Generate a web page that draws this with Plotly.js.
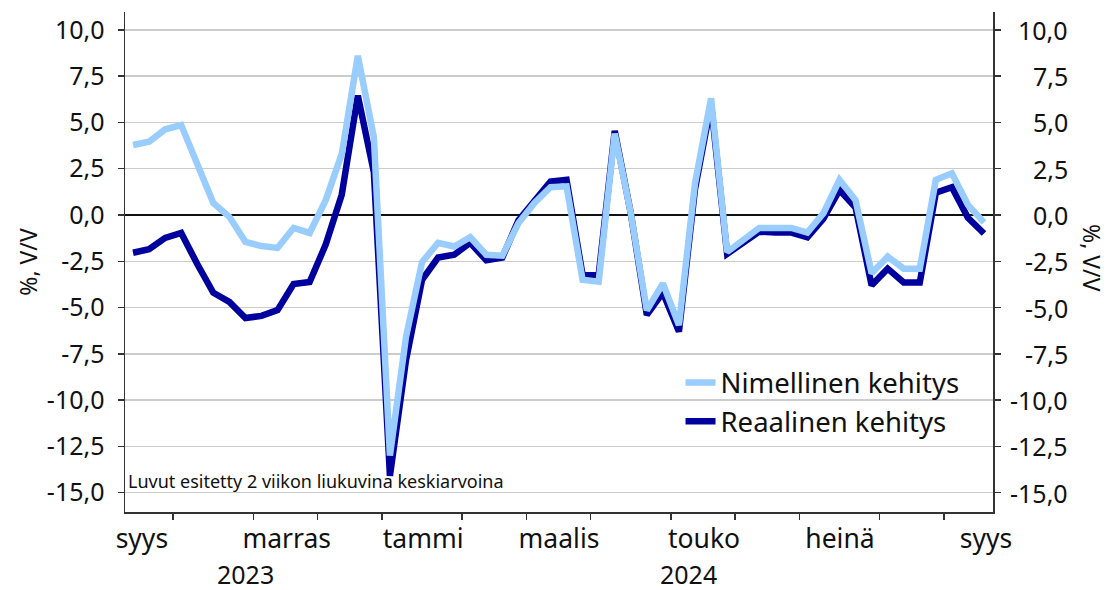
<!DOCTYPE html>
<html><head><meta charset="utf-8">
<script src="https://cdn.plot.ly/plotly-3.0.1.min.js"></script>
<style>html,body{margin:0;padding:0;background:#fff}#chart{width:1107px;height:590px}</style>
</head><body><div id="chart"></div>
<script>
// weekly points, Sept 2023 .. Sept 2024 (54 weeks)
const weekIndex = [0,1,2,3,4,5,6,7,8,9,10,11,12,13,14,15,16,17,18,19,20,21,22,23,24,25,26,27,28,29,30,31,32,33,34,35,36,37,38,39,40,41,42,43,44,45,46,47,48,49,50,51,52,53];
const nominal = [3.78,3.96,4.63,4.86,2.76,0.65,-0.1,-1.45,-1.68,-1.78,-0.7,-0.97,0.8,3.3,8.6,4.2,-13.0,-6.6,-2.55,-1.5,-1.7,-1.2,-2.15,-2.2,-0.45,0.65,1.5,1.55,-3.5,-3.6,4.4,0.1,-5.15,-3.7,-5.95,1.7,6.3,-2.0,-1.35,-0.7,-0.7,-0.7,-0.95,0.1,1.9,0.8,-3.15,-2.25,-2.9,-2.9,1.9,2.25,0.55,-0.4];
const real = [-2.04,-1.85,-1.24,-0.97,-2.65,-4.2,-4.7,-5.57,-5.45,-5.14,-3.73,-3.62,-1.6,1.1,6.45,2.3,-14.1,-7.85,-3.5,-2.3,-2.15,-1.5,-2.45,-2.3,-0.3,0.8,1.8,1.9,-3.25,-3.25,4.55,0.1,-5.4,-4.2,-6.3,1.4,6.0,-2.1,-1.5,-0.9,-0.95,-0.95,-1.2,-0.2,1.35,0.4,-3.8,-2.9,-3.65,-3.65,1.2,1.5,-0.15,-1.0];
// month boundaries (between weeks) and label positions
const monthTicks = [2.5,7.5,11.5,15.5,20.5,24.5,28.5,33.5,37.5,41.5,46.5,50.5];
const monthLabelPos = [0.55,9.57,18.07,26.53,35.56,44.03,53.12];
const monthLabels = ['syys','marras','tammi','maalis','touko','heinä','syys'];
const yearLabelPos = [7.0,34.6];
const yearLabels = ['2023','2024'];
const yTicks = [10,7.5,5,2.5,0,-2.5,-5,-7.5,-10,-12.5,-15];
const yTickText = yTicks.map(v => v.toFixed(1).replace('.', ','));
const seriesNames = ['Nimellinen kehitys','Reaalinen kehitys'];
const yTitle = '%, V/V';
const note = 'Luvut esitetty 2 viikon liukuvina keskiarvoina';

const FONT = 'Noto Sans, Open Sans, sans-serif';
const LIGHT = '#99ccff', DARK = '#00009c';
const YR = [-16.05, 10.97];
const XR = [-0.5, 53.56];

const traces = [
  {x: weekIndex, y: real, name: seriesNames[1], type: 'scatter', mode: 'lines',
   line: {color: DARK, width: 6.5}},
  {x: weekIndex, y: nominal, name: seriesNames[0], type: 'scatter', mode: 'lines',
   line: {color: LIGHT, width: 6.5}},
  // invisible helper traces to show the right axis and the month-label axis
  {x: [weekIndex[0]], y: [yTicks[0]], yaxis: 'y2', xaxis: 'x', mode: 'markers',
   marker: {opacity: 0}, showlegend: false, hoverinfo: 'skip'},
  {x: [weekIndex[0]], y: [yTicks[0]], yaxis: 'y', xaxis: 'x2', mode: 'markers',
   marker: {opacity: 0}, showlegend: false, hoverinfo: 'skip'}
];

const annotations = [];
yearLabels.forEach((t, k) => annotations.push({
  text: t, xref: 'x', x: yearLabelPos[k], yref: 'paper', y: -0.124,
  xanchor: 'center', yanchor: 'middle', showarrow: false, borderpad: 0,
  font: {family: FONT, size: 25, color: '#111'}
}));
yTicks.forEach((v, k) => annotations.push({
  text: yTickText[k], xref: 'paper', x: 1.0887, yref: 'y', y: v,
  xanchor: 'right', yanchor: 'middle', showarrow: false,
  font: {family: FONT, size: 25, color: '#111'}
}));
annotations.push({
  text: yTitle, xref: 'paper', x: 1.114, yref: 'paper', y: 0.508,
  textangle: 90, xanchor: 'center', yanchor: 'middle', showarrow: false,
  font: {family: FONT, size: 23, color: '#111'}
});
annotations.push({
  text: note, xref: 'paper', x: 0.001, yref: 'y', y: -14.38,
  xanchor: 'left', yanchor: 'middle', showarrow: false,
  font: {family: FONT, size: 18, color: '#111'}
});

const layout = {
  width: 1107, height: 590,
  margin: {l: 125, r: 114, t: 12, b: 78, pad: 0},
  paper_bgcolor: '#fff', plot_bgcolor: '#fff',
  font: {family: FONT, color: '#111'},
  showlegend: true,
  legend: {x: 0.640, y: 0.22, xanchor: 'left', yanchor: 'middle',
           traceorder: 'reversed', bgcolor: 'rgba(0,0,0,0)',
           font: {family: FONT, size: 27.5, color: '#111'}, tracegroupgap: 0},
  xaxis: {range: XR, showgrid: false, zeroline: false,
          tickmode: 'array', tickvals: monthTicks, showticklabels: false,
          ticks: 'outside', ticklen: 6, tickwidth: 1.5, tickcolor: '#333',
          showline: true, linecolor: '#333', linewidth: 1.5, fixedrange: true},
  xaxis2: {range: XR, overlaying: 'x', anchor: 'y', side: 'bottom',
           showgrid: false, zeroline: false, showline: false, ticks: '',
           tickmode: 'array', tickvals: monthLabelPos, ticktext: monthLabels,
           ticklabelstandoff: 8,
           tickfont: {family: FONT, size: 26.5, color: '#111'}},
  yaxis: {range: YR, tickmode: 'array', tickvals: yTicks, ticktext: yTickText,
          ticks: 'outside', ticklen: 6, tickwidth: 1.5, tickcolor: '#333',
          ticklabelstandoff: 8,
          tickfont: {family: FONT, size: 25, color: '#111'},
          showgrid: true, gridcolor: '#cccccc', gridwidth: 1.5,
          zeroline: true, zerolinecolor: '#111', zerolinewidth: 1.5,
          showline: true, linecolor: '#333', linewidth: 1.5,
          title: {text: yTitle, font: {family: FONT, size: 23, color: '#111'}, standoff: 3}},
  yaxis2: {range: YR, overlaying: 'y', side: 'right', anchor: 'x',
           tickmode: 'array', tickvals: yTicks, showticklabels: false,
           ticks: 'outside', ticklen: 6, tickwidth: 1.5, tickcolor: '#333',
           showgrid: false, zeroline: false,
           showline: true, linecolor: '#333', linewidth: 1.5},
  annotations: annotations
};
Plotly.newPlot('chart', traces, layout, {staticPlot: true, displayModeBar: false});
</script></body></html>
